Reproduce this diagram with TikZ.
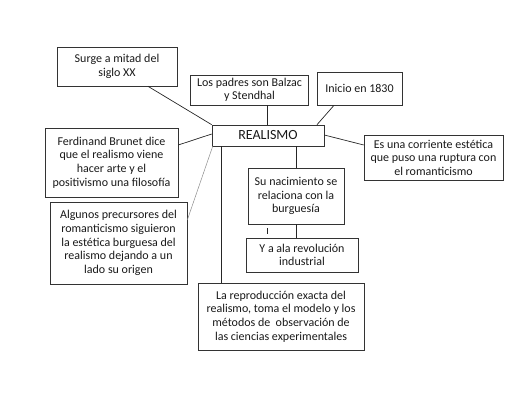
\documentclass[tikz,border=0pt]{standalone}
\usepackage{fontspec}
\setmainfont{Carlito}
\usetikzlibrary{calc}
\tikzset{
  box/.style={draw=black!80, line width=0.6pt, align=center, inner sep=0pt,
    font=\fontsize{12}{13.6}\selectfont, text=black!90},
  conn/.style={draw=black!85, line width=0.7pt},
  thinconn/.style={draw=black!45, line width=0.5pt}
}
\begin{document}
\begin{tikzpicture}[x=1pt,y=-1pt]
\useasboundingbox (0,0) rectangle (507,412);
\node[box, minimum width=120pt, minimum height=39pt] (surge) at (117,66.5) {Surge a mitad del\\siglo XX};
\node[box, minimum width=118pt, minimum height=30pt] (padres) at (249.5,90) {Los padres son Balzac\\y Stendhal};
\node[box, minimum width=85pt, minimum height=33pt] (inicio) at (359.5,88.5) {Inicio en 1830};
\node[box, minimum width=112pt, minimum height=21pt, font=\fontsize{14}{16}\selectfont] (real) at (268,135.5) {REALISMO};
\node[box, minimum width=139pt, minimum height=45pt] (esuna) at (433.5,157.5) {Es una corriente estética\\que puso una ruptura con\\el romanticismo};
\node[box, minimum width=133pt, minimum height=69pt] (ferd) at (111.5,162.5) {Ferdinand Brunet dice\\que el realismo viene\\hacer arte y el\\positivismo una filosofía};
\node[box, minimum width=137pt, minimum height=82pt] (alg) at (118.5,243) {Algunos precursores del\\romanticismo siguieron\\la estética burguesa del\\realismo dejando a un\\lado su origen};
\node[box, minimum width=96pt, minimum height=56pt] (nac) at (296,196) {Su nacimiento se\\relaciona con la\\burguesía};
\node[box, minimum width=112pt, minimum height=34pt] (ya) at (302,255) {Y a ala revolución\\industrial};
\node[box, minimum width=166pt, minimum height=67pt] (repro) at (281,316.5) {La reproducción exacta del\\realismo, toma el modelo y los\\métodos de~ observación de\\las ciencias experimentales};

\draw[conn] ([xshift=31pt]surge.south) -- (real.north west);
\draw[conn] ([xshift=17.5pt]padres.south) -- ([xshift=17.5pt]padres.south |- real.north);
\draw[conn] ([xshift=-25.5pt]inicio.south) -- ([xshift=49pt]real.north);
\draw[conn] ([yshift=0.5pt]real.east) -- ([yshift=12.5pt]esuna.west);
\draw[conn] ([yshift=17.5pt]ferd.east) -- ([yshift=1.5pt]real.west);
\draw[thinconn] ([xshift=1pt]real.south west) -- ([yshift=23pt]alg.east);
\draw[conn] ([xshift=10pt]real.south west) -- ([xshift=10pt]real.south west |- repro.north);
\draw[conn] ([xshift=28pt]real.south) -- (nac.north);
\draw[conn] (nac.south) -- (nac.south |- ya.north);
\coordinate (tickA) at (267,228);
\coordinate (tickB) at (267,234);
\draw[conn] (tickA) -- (tickB);
\end{tikzpicture}
\end{document}
